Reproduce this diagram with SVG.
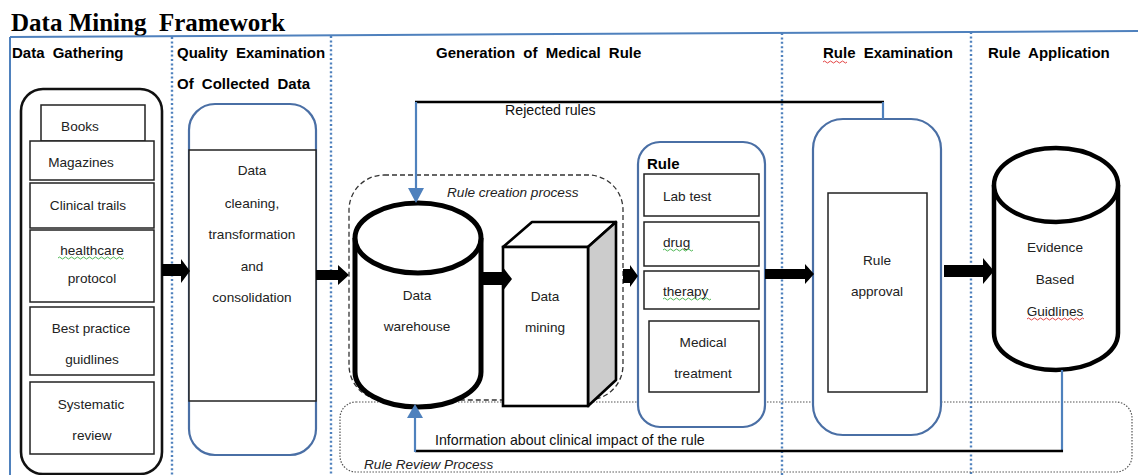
<svg xmlns="http://www.w3.org/2000/svg" width="1138" height="475" viewBox="0 0 1138 475">
<defs>
<style>
.title{font-family:"Liberation Serif","Times New Roman",serif;font-weight:bold;font-size:25px;fill:#000;white-space:pre}
.hd{font-family:"Liberation Sans",Arial,sans-serif;font-weight:bold;font-size:15px;fill:#000;word-spacing:4px}
.t{font-family:"Liberation Sans",Arial,sans-serif;font-size:13.6px;fill:#222}
.tl{font-family:"Liberation Sans",Arial,sans-serif;font-size:14.2px;fill:#111}
.tc{font-family:"Liberation Sans",Arial,sans-serif;font-size:13.6px;fill:#222;text-anchor:middle}
.it{font-family:"Liberation Sans",Arial,sans-serif;font-size:13.6px;font-style:italic;fill:#222}
.box{fill:#fff;stroke:#222;stroke-width:1.5}
.blue{fill:#fff;stroke:#4a6fa5;stroke-width:2.2}
.dotv{stroke:#4f81bd;stroke-width:2.4;stroke-dasharray:2 2.4;fill:none}
.blk{fill:#000}
.bl{stroke:#4f81bd;stroke-width:2.2;fill:none}
.kl{stroke:#000;stroke-width:2.6;fill:none}
.sqg{fill:none;stroke:#3cb043;stroke-width:0.9}
.sqr{fill:none;stroke:#e03030;stroke-width:0.9}
</style>
</defs>

<g id="frame">
<text class="title" x="11" y="31">Data Mining  Framework</text>
<line x1="10" y1="37" x2="1138" y2="31" stroke="#4f81bd" stroke-width="2"/>
<line x1="10" y1="37" x2="10" y2="475" stroke="#4f81bd" stroke-width="2"/>
<line class="dotv" x1="172" y1="37" x2="172" y2="475"/>
<line class="dotv" x1="331" y1="36" x2="331" y2="475"/>
<line class="dotv" x1="782" y1="33" x2="782" y2="475"/>
<line class="dotv" x1="971" y1="32" x2="971" y2="475"/>
<text class="hd" x="12" y="58">Data Gathering</text>
<text class="hd" x="177" y="58">Quality Examination</text>
<text class="hd" x="177" y="89">Of Collected Data</text>
<text class="hd" x="436" y="58">Generation of Medical Rule</text>
<text class="hd" x="823" y="58">Rule Examination</text>
<path class="sqr" d="M823,62 q1.5,-2 3,0 t3,0 t3,0 t3,0 t3,0 t3,0 t3,0 t3,0"/>
<text class="hd" x="988" y="58">Rule Application</text>
</g>

<g id="review-process">
<rect x="340" y="402" width="792" height="70" rx="16" fill="none" stroke="#555" stroke-width="1.2" stroke-dasharray="1.5 1.5"/>
<text class="it" x="364" y="469">Rule Review Process</text>
</g>

<g id="creation-process">
<rect x="349" y="175" width="274" height="225" rx="35" fill="none" stroke="#333" stroke-width="1.3" stroke-dasharray="5 3"/>
<text class="it" x="447" y="197">Rule creation process</text>
</g>

<g id="data-gathering">
<rect x="21" y="89" width="141" height="385" rx="22" fill="#fff" stroke="#111" stroke-width="2.6"/>
<rect class="box" x="41" y="105" width="104" height="36"/>
<text class="tc" x="80" y="131">Books</text>
<rect class="box" x="30" y="141" width="124" height="39"/>
<text class="tc" x="81" y="167">Magazines</text>
<rect class="box" x="30" y="183" width="124" height="45"/>
<text class="tc" x="88" y="210">Clinical trails</text>
<rect class="box" x="30" y="230" width="124" height="72"/>
<text class="tc" x="92" y="255">healthcare</text>
<path class="sqg" d="M58,258 q1.5,-2 3,0 t3,0 t3,0 t3,0 t3,0 t3,0 t3,0 t3,0 t3,0 t3,0 t3,0 t3,0 t3,0 t3,0 t3,0 t3,0 t3,0 t3,0 t3,0 t3,0 t3,0 t3,0"/>
<text class="tc" x="92" y="283">protocol</text>
<rect class="box" x="30" y="307" width="124" height="68"/>
<text class="tc" x="91" y="333">Best practice</text>
<text class="tc" x="92" y="364">guidlines</text>
<rect class="box" x="30" y="382" width="124" height="72"/>
<text class="tc" x="91" y="409">Systematic</text>
<text class="tc" x="92" y="440">review</text>
</g>

<g id="quality-examination">
<rect class="blue" x="189" y="104" width="127" height="351" rx="26"/>
<rect class="box" x="189" y="150" width="127" height="251"/>
<text class="tc" x="252" y="175">Data</text>
<text class="tc" x="252" y="208">cleaning,</text>
<text class="tc" x="252" y="239">transformation</text>
<text class="tc" x="252" y="271">and</text>
<text class="tc" x="252" y="302">consolidation</text>
</g>

<g id="data-warehouse">
<path d="M355,238 L355,372 A63,35 0 0 0 481,372 L481,238" fill="#fff" stroke="#000" stroke-width="5"/>
<ellipse cx="418" cy="238" rx="63" ry="35" fill="#fff" stroke="#000" stroke-width="5"/>
<text class="tc" x="417" y="300">Data</text>
<text class="tc" x="417" y="331">warehouse</text>
</g>

<g id="data-mining">
<polygon points="503,247 532,222 616,222 588,247" fill="#fff" stroke="#000" stroke-width="2.6" stroke-linejoin="round"/>
<polygon points="588,247 616,222 616,380 588,406" fill="#cccccc" stroke="#000" stroke-width="2.6" stroke-linejoin="round"/>
<rect x="503" y="247" width="85" height="159" fill="#fff" stroke="#000" stroke-width="2.6"/>
<text class="tc" x="545" y="301">Data</text>
<text class="tc" x="545" y="332">mining</text>
</g>

<g id="rule">
<rect class="blue" x="638" y="142" width="127" height="285" rx="22"/>
<text class="hd" x="647" y="169">Rule</text>
<rect class="box" x="644" y="174" width="115" height="42"/>
<text class="t" x="663" y="201">Lab test</text>
<rect class="box" x="644" y="222" width="115" height="44"/>
<text class="t" x="663" y="247">drug</text>
<path class="sqg" d="M663,250 q1.5,-2 3,0 t3,0 t3,0 t3,0 t3,0 t3,0 t3,0 t3,0 t3,0 t3,0"/>
<rect class="box" x="644" y="271" width="115" height="38"/>
<text class="t" x="663" y="296">therapy</text>
<path class="sqg" d="M663,299 q1.5,-2 3,0 t3,0 t3,0 t3,0 t3,0 t3,0 t3,0 t3,0 t3,0 t3,0 t3,0 t3,0 t3,0 t3,0 t3,0 t3,0"/>
<rect class="box" x="649" y="321" width="110" height="71"/>
<text class="tc" x="703" y="347">Medical</text>
<text class="tc" x="703" y="378">treatment</text>
</g>

<g id="rule-examination">
<rect class="blue" x="813" y="119" width="128" height="316" rx="30"/>
<rect class="box" x="828" y="193" width="99" height="199"/>
<text class="tc" x="877" y="265">Rule</text>
<text class="tc" x="877" y="296">approval</text>
</g>

<g id="rule-application">
<path d="M994,185 L994,333 A62,37 0 0 0 1118,333 L1118,185" fill="#fff" stroke="#000" stroke-width="4.5"/>
<ellipse cx="1056" cy="185" rx="62" ry="37" fill="#fff" stroke="#000" stroke-width="4.5"/>
<text class="tc" x="1055" y="252">Evidence</text>
<text class="tc" x="1055" y="284">Based</text>
<text class="tc" x="1055" y="316">Guidlines</text>
<path class="sqr" d="M1027,319 q1.5,-2 3,0 t3,0 t3,0 t3,0 t3,0 t3,0 t3,0 t3,0 t3,0 t3,0 t3,0 t3,0 t3,0 t3,0 t3,0 t3,0 t3,0 t3,0 t3,0"/>
</g>

<g id="connectors">
<polygon class="blk" points="162,264 181,264 181,259 190,271 181,283 181,276 162,276"/>
<polygon class="blk" points="316,270 338,270 338,265 349,275 338,285 338,280 316,280"/>
<polygon class="blk" points="481,272 502,272 502,266 512,279 502,292 502,285 481,285"/>
<polygon class="blk" points="623,269 630,269 630,265 638,276 630,287 630,283 623,283"/>
<polygon class="blk" points="765,269 805,269 805,264 814,274 805,284 805,279 765,279"/>
<polygon class="blk" points="944,265 983,265 983,258 994,271 983,284 983,277 944,277"/>
<line class="kl" x1="415" y1="102" x2="884" y2="102"/>
<text class="tl" x="505" y="115">Rejected rules</text>
<line class="bl" x1="883" y1="102" x2="883" y2="119"/>
<line class="bl" x1="416" y1="102" x2="416" y2="190"/>
<polygon points="408,188 424,188 416,203" fill="#4f81bd"/>
<line class="bl" x1="1062" y1="370" x2="1062" y2="452"/>
<line class="kl" x1="415" y1="451" x2="1063" y2="451"/>
<text class="tl" x="435" y="445">Information about clinical impact of the rule</text>
<line class="bl" x1="415" y1="452" x2="415" y2="416"/>
<polygon points="407,418 423,418 415,404" fill="#4f81bd"/>
</g>
</svg>
